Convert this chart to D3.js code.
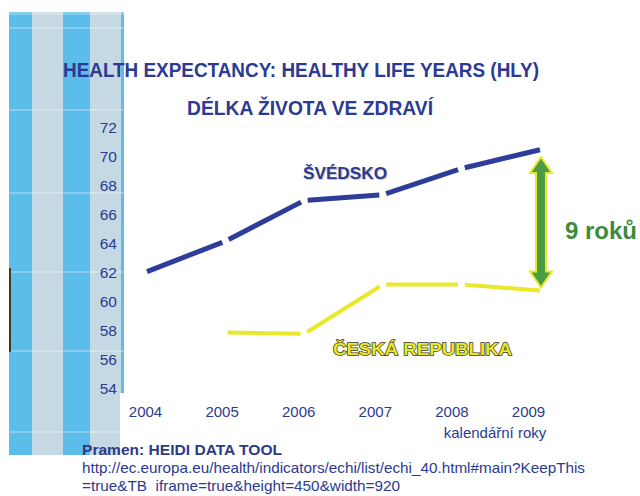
<!DOCTYPE html>
<html>
<head>
<meta charset="utf-8">
<script src="https://cdn.jsdelivr.net/npm/d3@7"></script>
<style>
  html, body { margin: 0; padding: 0; background: #fff; }
  svg { display: block; font-family: "Liberation Sans", Arial, sans-serif; }
</style>
</head>
<body>
<svg id="chart" width="640" height="496"></svg>
<script>
// Healthy life years (HLY) at birth, Sweden vs. Czech Republic
const years = ["2004", "2005", "2006", "2007", "2008", "2009"];
const sweden = [62.1, 64.2, 67.0, 67.4, 69.2, 70.5];
const czech = [null, 57.9, 57.8, 61.2, 61.2, 60.8];
const yTicks = [54, 56, 58, 60, 62, 64, 66, 68, 70, 72];
const gapBase = 61;   // lower end of the highlighted difference
const gapYears = 9;   // "9 roků"

const titleLines = ["HEALTH EXPECTANCY: HEALTHY LIFE YEARS (HLY)", "DÉLKA ŽIVOTA VE ZDRAVÍ"];
const seriesNames = ["ŠVÉDSKO", "ČESKÁ REPUBLIKA"];
const xTitle = "kalendářní roky";
const sourceLines = [
  "Pramen: HEIDI DATA TOOL",
  "http://ec.europa.eu/health/indicators/echi/list/echi_40.html#main?KeepThis",
  "=true&TB  iframe=true&height=450&width=920"
];

const navy = "#2C3A92";
const lineBlue = "#2E3D9A";
const yellow = "#E9E82B";
const green = "#4C9C45";

const svg = d3.select("#chart");

// ---- decorative striped band on the left ----
const band = svg.append("g");
const stripes = [
  { x0: 9, x1: 32, c: "#5CBCEA" },
  { x0: 32, x1: 63, c: "#C4D9E3" },
  { x0: 63, x1: 90, c: "#5CBCEA" },
  { x0: 90, x1: 121, c: "#C4D9E3" },
  { x0: 121, x1: 124, c: "#5CBCEA" }
];
band.selectAll("rect.stripe").data(stripes).join("rect")
  .attr("class", "stripe")
  .attr("x", d => d.x0).attr("y", 12)
  .attr("width", d => d.x1 - d.x0).attr("height", 443)
  .attr("fill", d => d.c);
band.selectAll("line.rule").data([28, 110, 193, 272, 351, 432]).join("line")
  .attr("class", "rule")
  .attr("x1", 9).attr("x2", 124)
  .attr("y1", d => d).attr("y2", d => d)
  .attr("stroke", "#ffffff").attr("stroke-opacity", 0.35).attr("stroke-width", 1.5);
band.append("rect").attr("x", 9).attr("y", 12).attr("width", 115).attr("height", 3)
  .attr("fill", "#ffffff").attr("opacity", 0.25);
band.append("rect").attr("x", 9).attr("y", 268).attr("width", 2).attr("height", 84)
  .attr("fill", "#3a3a22");
// white panel behind the year labels
band.append("rect").attr("x", 120).attr("y", 393).attr("width", 520).attr("height", 103)
  .attr("fill", "#ffffff");

// ---- scales ----
const y = d3.scaleLinear().domain([54, 72]).range([389, 128]);
const x = d3.scalePoint().domain(years).range([147, 540]);
const xLabel = d3.scalePoint().domain(years).range([145, 528]);

// ---- titles ----
svg.append("text")
  .attr("x", 63).attr("y", 77)
  .attr("textLength", 476).attr("lengthAdjust", "spacingAndGlyphs")
  .attr("font-size", 21).attr("font-weight", "bold").attr("fill", navy)
  .text(titleLines[0]);
svg.append("text")
  .attr("x", 187).attr("y", 115)
  .attr("textLength", 246).attr("lengthAdjust", "spacingAndGlyphs")
  .attr("font-size", 21).attr("font-weight", "bold").attr("fill", navy)
  .text(titleLines[1]);

// ---- axes ----
const yAxis = svg.append("g")
  .attr("transform", "translate(117,0)")
  .call(d3.axisLeft(y).tickValues(yTicks).tickSize(0).tickPadding(0));
yAxis.select(".domain").remove();
yAxis.selectAll("text").attr("font-size", 15.5).attr("fill", navy)
  .style("font-family", "'Liberation Sans', Arial, sans-serif");

const xAxis = svg.append("g")
  .attr("transform", "translate(0,406)")
  .call(d3.axisBottom(xLabel).tickSize(0).tickPadding(0));
xAxis.select(".domain").remove();
xAxis.selectAll("text").attr("font-size", 15).attr("fill", navy)
  .style("font-family", "'Liberation Sans', Arial, sans-serif");

svg.append("text")
  .attr("x", 495).attr("y", 438).attr("text-anchor", "middle")
  .attr("font-size", 15).attr("fill", navy)
  .text(xTitle);

// ---- series: each year-to-year step drawn as its own stroke ----
function segments(values, trim) {
  const pts = values.map((v, i) => v == null ? null : [x(years[i]), y(v)]);
  const segs = [];
  for (let i = 0; i < pts.length - 1; i++) {
    const a = pts[i], b = pts[i + 1];
    if (!a || !b) continue;
    const dx = b[0] - a[0], dy = b[1] - a[1];
    const len = Math.hypot(dx, dy);
    const t0 = (i === 0 || !pts[i - 1]) ? trim.start : trim.mid;
    const t1 = (i + 1 === pts.length - 1) ? 0 : trim.mid;
    segs.push([
      [a[0] + dx * t0 / len, a[1] + dy * t0 / len],
      [b[0] - dx * t1 / len, b[1] - dy * t1 / len]
    ]);
  }
  return segs;
}
const line = d3.line();

svg.append("g").selectAll("path").data(segments(sweden, { start: 0, mid: 3.5 })).join("path")
  .attr("d", line).attr("fill", "none")
  .attr("stroke", lineBlue).attr("stroke-width", 5);

svg.append("g").selectAll("path").data(segments(czech, { start: 2, mid: 3.5 })).join("path")
  .attr("d", line).attr("fill", "none")
  .attr("stroke", yellow).attr("stroke-width", 4);

// ---- series names ----
svg.append("text")
  .attr("x", 303).attr("y", 179)
  .attr("textLength", 84).attr("lengthAdjust", "spacingAndGlyphs")
  .attr("font-size", 16.5).attr("font-weight", "bold").attr("fill", navy)
  .style("text-shadow", "1px 1px 1px rgba(0,0,0,0.25)")
  .text(seriesNames[0]);
svg.append("text")
  .attr("x", 333).attr("y", 355)
  .attr("textLength", 179).attr("lengthAdjust", "spacingAndGlyphs")
  .attr("font-size", 17).attr("font-weight", "bold")
  .attr("fill", yellow).attr("stroke", "#3b3a20").attr("stroke-width", 1.4)
  .attr("paint-order", "stroke")
  .text(seriesNames[1]);

// ---- double-headed arrow showing the gap in 2009 ----
const ax = 541;
const yTop = y(gapBase + gapYears), yBot = y(gapBase);
const headW = 11, headH = 16, shaftW = 5;
const arrowPts = [
  [ax, yTop],
  [ax + headW, yTop + headH],
  [ax + shaftW, yTop + headH],
  [ax + shaftW, yBot - headH],
  [ax + headW, yBot - headH],
  [ax, yBot],
  [ax - headW, yBot - headH],
  [ax - shaftW, yBot - headH],
  [ax - shaftW, yTop + headH],
  [ax - headW, yTop + headH]
];
svg.append("path")
  .attr("d", d3.line()(arrowPts) + "Z")
  .attr("fill", green).attr("stroke", yellow).attr("stroke-width", 2)
  .attr("stroke-linejoin", "miter");

svg.append("text")
  .attr("x", 565).attr("y", 239)
  .attr("font-size", 24).attr("font-weight", "bold").attr("fill", "#3D8B3D")
  .text(gapYears + " roků");

// ---- source note ----
svg.append("text")
  .attr("x", 82).attr("y", 455)
  .attr("textLength", 200).attr("lengthAdjust", "spacingAndGlyphs")
  .attr("font-size", 14.5).attr("font-weight", "bold").attr("fill", "#2D3A86")
  .text(sourceLines[0]);
svg.append("text")
  .attr("x", 82).attr("y", 473)
  .attr("textLength", 503).attr("lengthAdjust", "spacingAndGlyphs")
  .attr("font-size", 14.5).attr("fill", navy)
  .text(sourceLines[1]);
svg.append("text")
  .attr("x", 82).attr("y", 491)
  .attr("textLength", 318).attr("lengthAdjust", "spacingAndGlyphs")
  .attr("font-size", 14.5).attr("fill", navy)
  .style("white-space", "pre")
  .text(sourceLines[2]);
</script>
</body>
</html>
